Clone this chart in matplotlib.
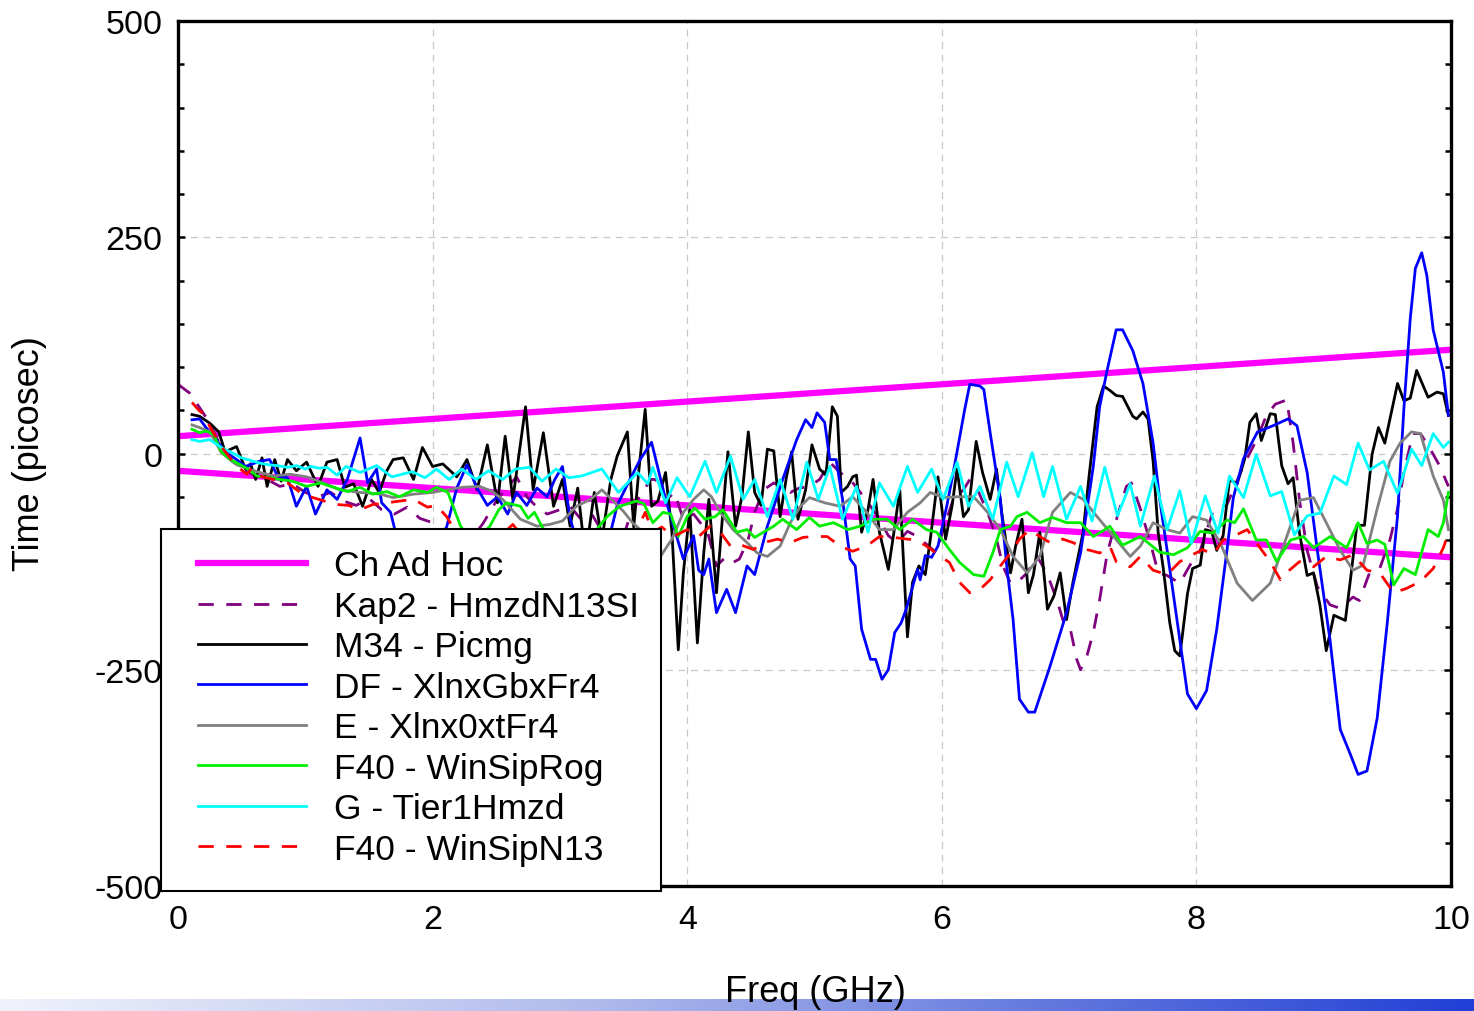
#!/usr/bin/env python3

import numpy as np
from matplotlib import pyplot as plt
from matplotlib.colors import LinearSegmentedColormap
from matplotlib.patches import Rectangle

plt.rcParams['font.family'] = ['Liberation Sans', 'DejaVu Sans']
plt.rcParams['axes.unicode_minus'] = False

# Ch Ad Hoc limit lines (freq GHz, time ps)
limit_freq = [0, 10]
limit_upper = [20, 120]
limit_lower = [-20, -120]

# (freq GHz, time ps)
kap2 = [(0.0, 80), (0.09, 70), (0.17, 53), (0.25, 35), (0.33, 10), (0.42, -8), (0.5, -18), (0.6, -25),
        (0.7, -30), (0.8, -38), (0.9, -35), (1.0, -45), (1.1, -50), (1.2, -45), (1.3, -55), (1.4, -60),
        (1.5, -52), (1.6, -65), (1.7, -70), (1.8, -62), (1.9, -75), (2.0, -80), (2.1, -95), (2.2, -110),
        (2.3, -100), (2.4, -80), (2.5, -55), (2.58, -40), (2.66, -27), (2.74, -50), (2.82, -62), (2.9, -70),
        (3.0, -65), (3.08, -61), (3.16, -75), (3.25, -70), (3.33, -90), (3.42, -110), (3.5, -95), (3.58, -60),
        (3.65, -45), (3.71, -30), (3.75, -30), (3.84, -53), (3.9, -45), (3.97, -76), (4.05, -70), (4.16, -91),
        (4.23, -130), (4.3, -120), (4.36, -126), (4.41, -122), (4.48, -99), (4.53, -68), (4.6, -42), (4.68, -34),
        (4.74, -38), (4.81, -45), (4.88, -40), (4.96, -38), (5.04, -30), (5.12, -10), (5.2, -22), (5.28, -30),
        (5.36, -45), (5.44, -61), (5.51, -76), (5.58, -95), (5.65, -103), (5.73, -90), (5.81, -96), (5.88, -105),
        (5.96, -115), (6.01, -88), (6.09, -53), (6.17, -42), (6.22, -30), (6.29, -45), (6.36, -68), (6.43, -99),
        (6.48, -130), (6.54, -150), (6.6, -148), (6.67, -138), (6.75, -119), (6.83, -140), (6.91, -172),
        (6.95, -192), (7.01, -203), (7.06, -238), (7.09, -250), (7.14, -234), (7.19, -207), (7.24, -169),
        (7.3, -115), (7.38, -72), (7.45, -38), (7.49, -34), (7.56, -64), (7.64, -104), (7.7, -138), (7.77, -141),
        (7.87, -150), (7.95, -129), (8.03, -112), (8.13, -67), (8.24, -59), (8.37, -14), (8.47, 15), (8.55, 44),
        (8.62, 57), (8.71, 62), (8.76, 12), (8.81, -54), (8.87, -112), (8.95, -154), (9.05, -175), (9.13, -179),
        (9.23, -166), (9.28, -170), (9.36, -138), (9.44, -133), (9.52, -100), (9.58, -64), (9.63, -22),
        (9.7, 23), (9.76, 23), (9.83, 7), (9.91, -14), (9.98, -38)]

m34 = [(0.11, 45), (0.17, 43), (0.25, 35), (0.32, 25), (0.37, 2), (0.46, 8), (0.53, -18), (0.57, -12),
       (0.61, -30), (0.66, -5), (0.70, -38), (0.76, -7), (0.81, -32), (0.86, -7), (0.93, -20), (1.01, -10),
       (1.10, -38), (1.17, -10), (1.25, -7), (1.31, -39), (1.38, -35), (1.45, -61), (1.52, -30), (1.58, -45),
       (1.64, -20), (1.69, -7), (1.77, -5), (1.85, -30), (1.92, 7), (2.0, -15), (2.08, -12), (2.19, -27),
       (2.27, -7), (2.35, -42), (2.43, 10), (2.51, -57), (2.57, 20), (2.63, -53), (2.73, 54), (2.79, -42),
       (2.87, 24), (2.95, -61), (3.02, -30), (3.08, -84), (3.14, -40), (3.20, -120), (3.27, -45), (3.33, -100),
       (3.40, -30), (3.45, -3), (3.53, 25), (3.58, -85), (3.62, -20), (3.67, 51), (3.72, -61), (3.77, -55),
       (3.83, -22), (3.88, -91), (3.93, -227), (3.97, -138), (4.02, -65), (4.08, -219), (4.13, -115),
       (4.17, -53), (4.23, -161), (4.28, -68), (4.32, 2), (4.38, -84), (4.43, -50), (4.48, 25), (4.53, -45),
       (4.58, -60), (4.63, 5), (4.68, 3), (4.73, -73), (4.78, -27), (4.82, 2), (4.87, -76), (4.93, -42),
       (4.98, 10), (5.04, -18), (5.09, -25), (5.14, 54), (5.18, 43), (5.21, -45), (5.26, -38), (5.30, -27),
       (5.33, -25), (5.37, -91), (5.42, -65), (5.46, -30), (5.51, -91), (5.58, -134), (5.62, -95), (5.67, -42),
       (5.73, -212), (5.77, -149), (5.82, -130), (5.87, -140), (5.91, -99), (5.97, -27), (6.03, -99),
       (6.08, -61), (6.12, -18), (6.17, -73), (6.21, -65), (6.27, 14), (6.32, -22), (6.38, -53), (6.43, -18),
       (6.47, -68), (6.54, -138), (6.58, -107), (6.63, -76), (6.68, -161), (6.72, -140), (6.77, -91),
       (6.83, -180), (6.88, -165), (6.93, -138), (6.98, -192), (7.03, -149), (7.11, -91), (7.16, -22),
       (7.22, 54), (7.27, 78), (7.32, 73), (7.37, 67), (7.42, 66), (7.50, 43), (7.53, 40), (7.58, 48),
       (7.62, 40), (7.66, -9), (7.70, -92), (7.74, -133), (7.79, -195), (7.83, -228), (7.87, -234),
       (7.93, -162), (7.97, -133), (8.03, -129), (8.07, -88), (8.12, -90), (8.16, -112), (8.21, -95),
       (8.26, -30), (8.32, -35), (8.38, -6), (8.42, 36), (8.47, 46), (8.51, 15), (8.58, 46), (8.62, 45),
       (8.67, -14), (8.72, -35), (8.76, -28), (8.81, -92), (8.87, -141), (8.92, -138), (8.97, -175),
       (9.02, -228), (9.08, -187), (9.17, -193), (9.21, -146), (9.26, -83), (9.32, -83), (9.38, -1),
       (9.43, 30), (9.48, 12), (9.58, 81), (9.63, 61), (9.68, 64), (9.73, 96), (9.82, 65), (9.89, 71),
       (9.94, 69), (9.98, 44)]

df = [(0.11, 39), (0.17, 40), (0.22, 30), (0.28, 20), (0.37, 2), (0.46, -7), (0.53, -15), (0.64, -9),
      (0.72, -7), (0.78, -26), (0.86, -28), (0.93, -61), (1.01, -38), (1.08, -70), (1.17, -42), (1.25, -53),
      (1.33, -30), (1.43, 18), (1.49, -34), (1.56, -18), (1.60, -57), (1.67, -68), (1.74, -110), (1.85, -95),
      (1.95, -120), (2.05, -100), (2.11, -85), (2.19, -40), (2.27, -13), (2.35, -40), (2.43, -60),
      (2.51, -50), (2.59, -70), (2.66, -45), (2.74, -60), (2.82, -40), (2.90, -50), (2.96, -30), (3.02, -15),
      (3.08, -75), (3.15, -110), (3.25, -95), (3.35, -120), (3.45, -60), (3.55, -30), (3.63, -7), (3.72, 13),
      (3.83, -53), (3.97, -122), (4.05, -95), (4.09, -135), (4.13, -140), (4.17, -122), (4.23, -184),
      (4.31, -157), (4.38, -184), (4.47, -130), (4.53, -140), (4.63, -84), (4.75, -30), (4.86, 16),
      (4.93, 39), (4.98, 30), (5.02, 47), (5.08, 36), (5.12, -7), (5.17, -7), (5.22, -53), (5.28, -122),
      (5.32, -130), (5.37, -203), (5.44, -238), (5.48, -238), (5.53, -261), (5.58, -250), (5.63, -207),
      (5.68, -196), (5.72, -180), (5.81, -134), (5.83, -146), (5.87, -118), (5.92, -120), (5.97, -107),
      (6.04, -60), (6.09, -22), (6.18, 51), (6.22, 80), (6.30, 78), (6.33, 74), (6.38, 24), (6.46, -53),
      (6.51, -130), (6.56, -192), (6.61, -284), (6.68, -299), (6.73, -299), (6.85, -246), (6.98, -184),
      (7.09, -115), (7.19, -15), (7.24, 54), (7.30, 97), (7.37, 143), (7.42, 143), (7.50, 119), (7.58, 81),
      (7.66, 12), (7.71, -51), (7.77, -112), (7.85, -195), (7.93, -278), (8.00, -295), (8.08, -274),
      (8.16, -203), (8.24, -112), (8.29, -51), (8.37, -6), (8.48, 25), (8.60, 32), (8.72, 40), (8.79, 32),
      (8.87, -22), (8.95, -112), (9.05, -216), (9.13, -319), (9.21, -348), (9.27, -371), (9.34, -367),
      (9.42, -306), (9.50, -195), (9.58, -72), (9.63, 52), (9.68, 156), (9.72, 214), (9.77, 232),
      (9.81, 206), (9.86, 143), (9.94, 94), (9.98, 44)]

e_xlnx = [(0.11, 33), (0.17, 30), (0.25, 25), (0.34, 1), (0.46, -13), (0.62, -21), (0.75, -26), (0.88, -24),
          (1.01, -27), (1.14, -34), (1.27, -42), (1.43, -45), (1.59, -47), (1.69, -51), (1.85, -47),
          (2.0, -45), (2.11, -42), (2.24, -39), (2.37, -38), (2.47, -44), (2.55, -53), (2.69, -76),
          (2.82, -84), (2.92, -82), (3.02, -78), (3.13, -61), (3.24, -53), (3.33, -42), (3.42, -55),
          (3.50, -67), (3.57, -80), (3.63, -88), (3.79, -119), (3.88, -99), (3.97, -68), (4.05, -53),
          (4.13, -42), (4.19, -50), (4.26, -68), (4.36, -88), (4.47, -103), (4.55, -115), (4.63, -119),
          (4.73, -107), (4.81, -80), (4.89, -61), (4.96, -51), (5.08, -57), (5.20, -61), (5.30, -50),
          (5.41, -68), (5.51, -88), (5.62, -88), (5.73, -68), (5.83, -57), (5.91, -45), (6.01, -51),
          (6.12, -50), (6.25, -50), (6.36, -68), (6.46, -88), (6.56, -119), (6.67, -138), (6.77, -119),
          (6.87, -68), (7.01, -45), (7.11, -53), (7.22, -73), (7.35, -96), (7.48, -119), (7.56, -107),
          (7.66, -80), (7.77, -88), (7.87, -92), (7.97, -73), (8.08, -77), (8.19, -104), (8.32, -150),
          (8.44, -170), (8.58, -150), (8.71, -96), (8.81, -54), (8.92, -51), (9.02, -80), (9.13, -112),
          (9.23, -135), (9.31, -129), (9.42, -64), (9.52, -9), (9.60, 12), (9.69, 25), (9.76, 23),
          (9.86, -26), (9.94, -54), (9.98, -88)]

f40_rog = [(0.11, 28), (0.17, 24), (0.22, 26), (0.28, 22), (0.34, 2), (0.41, -7), (0.49, -13), (0.55, -18),
           (0.62, -26), (0.72, -28), (0.80, -30), (0.90, -32), (1.01, -38), (1.12, -34), (1.22, -39),
           (1.33, -44), (1.43, -39), (1.53, -47), (1.64, -44), (1.74, -50), (1.85, -42), (1.96, -45),
           (2.03, -39), (2.12, -45), (2.22, -84), (2.30, -100), (2.38, -95), (2.45, -84), (2.52, -65),
           (2.58, -57), (2.69, -61), (2.75, -75), (2.80, -68), (2.88, -90), (2.95, -100), (3.05, -110),
           (3.15, -100), (3.25, -95), (3.37, -73), (3.47, -61), (3.60, -55), (3.66, -58), (3.73, -80),
           (3.81, -68), (3.87, -70), (3.93, -96), (4.00, -73), (4.06, -63), (4.14, -76), (4.22, -73),
           (4.28, -65), (4.39, -91), (4.47, -88), (4.53, -97), (4.61, -90), (4.68, -84), (4.75, -76),
           (4.86, -88), (4.96, -74), (5.04, -84), (5.15, -80), (5.26, -88), (5.36, -84), (5.46, -76),
           (5.57, -76), (5.67, -88), (5.77, -76), (5.88, -88), (5.96, -91), (6.06, -111), (6.14, -126),
           (6.25, -140), (6.33, -142), (6.40, -115), (6.46, -88), (6.54, -84), (6.59, -73), (6.67, -68),
           (6.77, -80), (6.87, -74), (6.98, -80), (7.09, -80), (7.19, -96), (7.26, -90), (7.32, -84),
           (7.42, -106), (7.56, -96), (7.71, -114), (7.82, -117), (7.93, -109), (8.03, -90), (8.13, -92),
           (8.24, -77), (8.30, -80), (8.37, -64), (8.47, -100), (8.55, -100), (8.63, -125), (8.74, -100),
           (8.84, -96), (8.92, -109), (9.05, -96), (9.18, -109), (9.27, -80), (9.34, -104), (9.42, -100),
           (9.48, -105), (9.55, -152), (9.63, -133), (9.72, -140), (9.82, -88), (9.90, -96), (9.94, -80),
           (9.98, -45)]

g_tier1 = [(0.11, 16), (0.17, 14), (0.25, 16), (0.34, 7), (0.41, 2), (0.5, -5), (0.57, -8), (0.64, -11),
           (0.71, -13), (0.78, -14), (0.86, -16), (0.93, -14), (1.0, -18), (1.04, -15), (1.11, -17),
           (1.17, -16), (1.25, -25), (1.32, -15), (1.43, -22), (1.56, -14), (1.68, -27), (1.84, -21),
           (1.94, -28), (2.03, -18), (2.13, -30), (2.23, -18), (2.34, -30), (2.44, -20), (2.55, -30),
           (2.65, -18), (2.76, -16), (2.86, -32), (2.97, -18), (3.07, -28), (3.17, -26), (3.33, -18),
           (3.46, -45), (3.61, -22), (3.69, -35), (3.73, -16), (3.83, -57), (3.92, -28), (4.02, -50),
           (4.14, -9), (4.23, -45), (4.34, -3), (4.44, -53), (4.53, -30), (4.63, -73), (4.73, -30),
           (4.83, -76), (4.94, -10), (5.03, -53), (5.12, -15), (5.22, -76), (5.33, -38), (5.42, -91),
           (5.51, -34), (5.62, -61), (5.73, -15), (5.81, -45), (5.92, -18), (6.01, -53), (6.12, -10),
           (6.21, -61), (6.30, -38), (6.40, -76), (6.51, -10), (6.60, -50), (6.71, 1), (6.80, -50),
           (6.87, -15), (6.98, -76), (7.09, -38), (7.18, -78), (7.28, -16), (7.38, -72), (7.48, -35),
           (7.56, -84), (7.67, -26), (7.77, -88), (7.87, -43), (7.96, -104), (8.07, -49), (8.17, -92),
           (8.26, -26), (8.37, -51), (8.47, -1), (8.58, -49), (8.67, -44), (8.77, -94), (8.87, -72),
           (8.97, -69), (9.08, -26), (9.18, -36), (9.27, 12), (9.36, -19), (9.47, -9), (9.58, -46),
           (9.69, 5), (9.77, -14), (9.86, 23), (9.94, 7), (9.98, 13)]

f40_n13 = [(0.11, 59), (0.17, 49), (0.21, 45), (0.25, 31), (0.34, 8), (0.42, -7), (0.49, -18), (0.54, -24),
           (0.58, -17), (0.64, -26), (0.75, -30), (0.86, -34), (0.96, -45), (1.06, -51), (1.15, -55),
           (1.25, -59), (1.34, -60), (1.43, -65), (1.53, -59), (1.64, -57), (1.74, -55), (1.85, -53),
           (1.96, -62), (2.03, -60), (2.11, -73), (2.2, -95), (2.3, -100), (2.4, -95), (2.5, -100),
           (2.63, -82), (2.7, -95), (2.8, -105), (2.9, -100), (3.0, -110), (3.1, -100), (3.2, -105),
           (3.3, -95), (3.4, -100), (3.5, -95), (3.6, -90), (3.67, -68), (3.73, -91), (3.8, -85),
           (3.89, -96), (4.0, -88), (4.09, -96), (4.18, -84), (4.26, -91), (4.34, -107), (4.41, -105),
           (4.52, -111), (4.60, -103), (4.71, -99), (4.81, -103), (4.91, -97), (4.99, -96), (5.10, -96),
           (5.20, -107), (5.30, -113), (5.41, -107), (5.51, -96), (5.62, -97), (5.73, -99), (5.80, -100),
           (5.88, -107), (5.99, -119), (6.06, -126), (6.14, -149), (6.22, -161), (6.30, -157), (6.38, -146),
           (6.46, -130), (6.54, -115), (6.61, -99), (6.69, -88), (6.77, -96), (6.85, -103), (6.95, -99),
           (7.03, -103), (7.14, -111), (7.24, -115), (7.32, -107), (7.37, -125), (7.48, -131), (7.56, -119),
           (7.66, -135), (7.77, -140), (7.87, -125), (7.97, -117), (8.05, -111), (8.13, -117), (8.21, -100),
           (8.30, -95), (8.40, -88), (8.50, -109), (8.58, -125), (8.66, -146), (8.73, -135), (8.81, -125),
           (8.92, -131), (9.02, -119), (9.13, -123), (9.23, -117), (9.34, -135), (9.44, -138), (9.55, -161),
           (9.65, -156), (9.76, -148), (9.86, -133), (9.94, -109), (9.98, -92)]

x_ticks = [0, 2, 4, 6, 8, 10]
y_ticks = [-500, -250, 0, 250, 500]
y_tick_labels = ['-500', '-250', '0', '250', '500']

W, H = 1474, 1012
fig = plt.figure(figsize=(W / 100, H / 100), dpi=100)
ax = fig.add_axes([178 / W, 1 - 887 / H, (1451 - 178) / W, 865 / H])
ax.set_zorder(2)

dash = (0, (5.5, 4.5))
ax.plot(limit_freq, limit_upper, color='#ff00ff', lw=4.5, label='Ch Ad Hoc')
ax.plot(limit_freq, limit_lower, color='#ff00ff', lw=4.5)
series = [
    (kap2, '#800080', dash, 'Kap2 - HmzdN13SI'),
    (m34, 'black', '-', 'M34 - Picmg'),
    (df, '#0000ff', '-', 'DF - XlnxGbxFr4'),
    (e_xlnx, '#808080', '-', 'E - Xlnx0xtFr4'),
    (f40_rog, '#00ee00', '-', 'F40 - WinSipRog'),
    (g_tier1, '#00ffff', '-', 'G - Tier1Hmzd'),
    (f40_n13, '#ff0000', dash, 'F40 - WinSipN13'),
]
for pts, col, ls, lab in series:
    f, t = np.array(pts).T
    ax.plot(f, t, color=col, ls=ls, lw=2.0, label=lab)

ax.set_xlim(0, 10)
ax.set_ylim(-500, 500)
ax.set_xticks(x_ticks)
ax.set_yticks(y_ticks)
ax.set_yticklabels(y_tick_labels)
ax.set_yticks(np.arange(-500, 501, 50), minor=True)
ax.grid(True, which='major', color='#c8c8c8', linestyle=(0, (5.5, 4.5)), linewidth=0.9)
ax.set_axisbelow(True)
for s in ax.spines.values():
    s.set_linewidth(2.4)
ax.tick_params(axis='y', which='both', direction='in', left=True, right=True, width=1.8,
               labelsize=24.5, pad=11)
ax.tick_params(axis='y', which='major', length=5)
ax.tick_params(axis='y', which='minor', length=4)
ax.tick_params(axis='x', which='both', length=0, labelsize=24.5, pad=13)

# legend frame drawn by hand so it sits exactly where the original box is
frame = Rectangle((161 / W, 1 - 892 / H), 500 / W, 362 / H, transform=fig.transFigure,
                  facecolor='white', edgecolor='black', lw=1.5, clip_on=False, zorder=4.5)
ax.add_patch(frame)
leg = ax.legend(loc='center left', bbox_to_anchor=(198 / W, 1 - 708.5 / H), bbox_transform=fig.transFigure,
                borderaxespad=0, borderpad=0, fontsize=25.5, handlelength=3.05, handletextpad=0.78,
                labelspacing=0.21, frameon=False)
leg.set_zorder(5)

fig.text(30 / W, 1 - 454 / H, 'Time (picosec)', rotation=90, ha='center', va='center', fontsize=26)
fig.text(815 / W, 1 - 993 / H, 'Freq (GHz)', ha='center', va='center', fontsize=26, zorder=5)

# blue gradient strip along the bottom
bar = fig.add_axes([0, 0, 1, 12 / H])
bar.set_zorder(0)
cmap = LinearSegmentedColormap.from_list('strip', [(0, '#f0f2fb'), (0.4, '#b0bbec'),
                                                   (0.75, '#5a70dc'), (1, '#2040d6')])
bar.imshow(np.linspace(0, 1, 256)[None, :], aspect='auto', cmap=cmap, extent=(0, 1, 0, 1))
bar.axis('off')

fig.savefig('out.png', dpi=100)
